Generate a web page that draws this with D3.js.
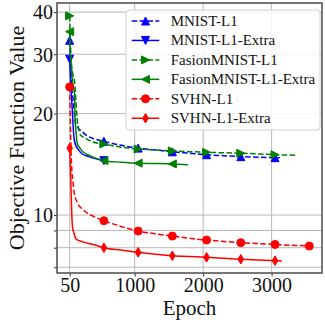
<!DOCTYPE html>
<html lang="en">
<head>
  <meta charset="UTF-8">
  <script src="https://cdn.jsdelivr.net/npm/d3@7"></script>
  <title>Objective Function Value</title>
  <style>
    body { margin: 0; background: #fff; }
    text { font-family: "Liberation Serif", "Times New Roman", serif; fill: #111; }
  </style>
</head>
<body>
<svg width="325" height="322"></svg>
<script>
  // 1. data
  var seriesNames = ["MNIST-L1", "MNIST-L1-Extra", "FasionMNIST-L1", "FasionMNIST-L1-Extra", "SVHN-L1", "SVHN-L1-Extra"];

  var mnistL1Epochs = [50, 65, 80, 100, 115, 130, 160, 230, 300, 420, 550, 800, 1050, 1300, 1550, 1800, 2050, 2300, 2550, 2800, 3050, 3120];
  var mnistL1Values = [33, 28, 24, 22, 20.5, 19, 18.3, 17.7, 17.2, 16.8, 16.55, 16.1, 15.8, 15.6, 15.4, 15.25, 15.1, 15.0, 14.9, 14.85, 14.8, 14.78];

  var mnistExtraEpochs = [50, 60, 70, 84, 100, 110, 130, 180, 230, 330, 450, 550, 600];
  var mnistExtraValues = [29, 26, 23.5, 21.2, 18.5, 17.2, 16.3, 15.6, 15.2, 14.9, 14.65, 14.5, 14.45];

  var fashionL1Epochs = [50, 60, 75, 100, 125, 140, 157, 175, 205, 280, 376, 550, 800, 1050, 1300, 1550, 1800, 2050, 2300, 2550, 2800, 3050, 3370];
  var fashionL1Values = [39, 33, 28, 26, 24.5, 22, 19.5, 18.3, 17.3, 16.9, 16.5, 16.25, 15.9, 15.7, 15.6, 15.5, 15.42, 15.35, 15.3, 15.25, 15.18, 15.1, 15.05];

  var fashionExtraEpochs = [50, 60, 75, 90, 108, 123, 128, 145, 160, 200, 230, 330, 450, 550, 800, 1050, 1300, 1550, 1780];
  var fashionExtraValues = [35, 30, 28, 25, 23.8, 22.5, 19.5, 17.5, 16.3, 15.8, 15.5, 15.05, 14.7, 14.5, 14.35, 14.25, 14.22, 14.18, 14.1];

  var svhnL1Epochs = [50, 58, 65, 75, 85, 100, 110, 160, 250, 400, 550, 800, 1050, 1300, 1550, 1800, 2050, 2300, 2550, 2800, 3050, 3300, 3550, 3570];
  var svhnL1Values = [24, 20, 17, 14.5, 13.3, 12.5, 11.85, 10.9, 10.35, 9.9, 9.62, 9.25, 8.96, 8.8, 8.66, 8.53, 8.43, 8.35, 8.28, 8.23, 8.18, 8.13, 8.09, 8.08];

  var svhnExtraEpochs = [50, 65, 75, 85, 95, 110, 125, 140, 230, 424, 550, 800, 1050, 1300, 1550, 1800, 2050, 2300, 2550, 2800, 3050, 3150];
  var svhnExtraValues = [15.8, 13, 11, 9.6, 9.1, 8.9, 8.65, 8.5, 8.34, 8.15, 8.0, 7.87, 7.75, 7.65, 7.57, 7.53, 7.49, 7.44, 7.39, 7.35, 7.32, 7.3];

  var xTicks = [50, 1000, 2000, 3000];
  var yTicks = [10, 20, 30, 40];
  var yMinorTicks = [7, 8, 9];

  // 2. styles
  var colors = ["#0000ff", "#0000ff", "#008000", "#008000", "#ff0000", "#ff0000"];
  var dashed = [true, false, true, false, true, false];
  var markers = ["up", "down", "right", "left", "circle", "thin"];

  var seriesEpochs = [mnistL1Epochs, mnistExtraEpochs, fashionL1Epochs, fashionExtraEpochs, svhnL1Epochs, svhnExtraEpochs];
  var seriesValues = [mnistL1Values, mnistExtraValues, fashionL1Values, fashionExtraValues, svhnL1Values, svhnExtraValues];
  var series = seriesNames.map(function(name, i) {
    return {
      name: name,
      points: seriesEpochs[i].map(function(e, j) { return {x: e, y: seriesValues[i][j]} })
    }
  });

  var svg = d3.select("svg");
  var plot = {left: 57, right: 322, top: 3, bottom: 273};

  // 3. scales
  var x = d3.scaleLinear().domain([-135, 3736]).range([plot.left, plot.right]);
  var y = d3.scaleLog().domain([6.73, 42.57]).range([plot.bottom, plot.top]);

  // 4. grid
  var grid = svg.append("g").attr("stroke", "#b8b8b8").attr("stroke-width", 1);
  xTicks.forEach(function(t) {
    grid.append("line").attr("x1", x(t)).attr("x2", x(t)).attr("y1", plot.top).attr("y2", plot.bottom);
  });
  yMinorTicks.concat(yTicks).forEach(function(t) {
    grid.append("line").attr("x1", plot.left).attr("x2", plot.right).attr("y1", y(t)).attr("y2", y(t));
  });

  // 5. axes
  var xAxis = svg.append("g")
    .attr("transform", "translate(0," + plot.bottom + ")")
    .call(d3.axisBottom(x).tickValues(xTicks).tickSize(3.5).tickFormat(d3.format("d")));
  xAxis.select(".domain").remove();
  xAxis.selectAll("line").attr("stroke", "#333");
  xAxis.selectAll("text").attr("dy", null).attr("y", 18.5)
    .style("font-size", "20px").style("font-family", "Liberation Serif").attr("fill", "#111");

  var yAxis = svg.append("g")
    .attr("transform", "translate(" + plot.left + ",0)")
    .call(d3.axisLeft(y).tickValues(yMinorTicks.concat(yTicks)).tickSize(3)
      .tickFormat(function(d) { return yTicks.indexOf(d) >= 0 ? d : "" }));
  yAxis.select(".domain").remove();
  yAxis.selectAll("line").attr("stroke", "#333");
  yAxis.selectAll("text").attr("x", -4).attr("dy", "0.34em")
    .style("font-size", "20px").style("font-family", "Liberation Serif").attr("fill", "#111");

  // 6. lines + markers
  var clip = svg.append("clipPath").attr("id", "plotclip").append("rect")
    .attr("x", plot.left).attr("y", plot.top)
    .attr("width", plot.right - plot.left).attr("height", plot.bottom - plot.top);

  var line = d3.line()
    .x(function(d) { return x(d.x) })
    .y(function(d) { return y(d.y) })
    .curve(d3.curveMonotoneX);

  function markerPath(type) {
    var m = 8, h = m / 2;
    if (type == "up") return "M0," + (-h) + "L" + h + "," + h + "L" + (-h) + "," + h + "Z";
    if (type == "down") return "M0," + h + "L" + h + "," + (-h) + "L" + (-h) + "," + (-h) + "Z";
    if (type == "right") return "M" + h + ",0L" + (-h) + "," + (-h) + "L" + (-h) + "," + h + "Z";
    if (type == "left") return "M" + (-h) + ",0L" + h + "," + (-h) + "L" + h + "," + h + "Z";
    if (type == "thin") return "M0,-4.8L2.8,0L0,4.8L-2.8,0Z";
    return d3.symbol().type(d3.symbolCircle).size(Math.PI * 16)();
  }

  var gs = svg.append("g").attr("clip-path", "url(#plotclip)")
    .selectAll(".series")
    .data(series)
    .enter()
    .append("g")
    .attr("class", "series");

  gs.append("path")
    .attr("d", function(d) { return line(d.points) })
    .attr("fill", "none")
    .attr("stroke", function(d, i) { return colors[i] })
    .attr("stroke-width", 1.5)
    .attr("stroke-dasharray", function(d, i) { return dashed[i] ? "5.5,2.4" : null });

  gs.each(function(d, i) {
    d3.select(this).selectAll(".mk")
      .data(d.points.filter(function(p) { return (p.x - 50) % 500 === 0 }))
      .enter()
      .append("path")
      .attr("transform", function(p) { return "translate(" + x(p.x) + "," + y(p.y) + ")" })
      .attr("d", markerPath(markers[i]))
      .attr("fill", colors[i])
      .attr("stroke", colors[i])
      .attr("stroke-width", 1);
  });

  // 7. frame
  svg.append("rect")
    .attr("x", plot.left).attr("y", plot.top)
    .attr("width", plot.right - plot.left).attr("height", plot.bottom - plot.top)
    .attr("fill", "none").attr("stroke", "#555").attr("stroke-width", 1.6);

  // 8. legend
  var legend = svg.append("g");
  legend.append("rect")
    .attr("x", 126).attr("y", 10).attr("width", 194).attr("height", 120).attr("rx", 3)
    .attr("fill", "#fff").attr("fill-opacity", 0.85)
    .attr("stroke", "#d0d0d0").attr("stroke-width", 1);

  var items = legend.selectAll(".item")
    .data(seriesNames)
    .enter()
    .append("g")
    .attr("transform", function(d, i) { return "translate(0," + (21 + i * 19.45) + ")" });

  items.append("line")
    .attr("x1", 131.7).attr("x2", 159.3)
    .attr("stroke", function(d, i) { return colors[i] })
    .attr("stroke-width", 1.5)
    .attr("stroke-dasharray", function(d, i) { return dashed[i] ? "5.5,2.4" : null });
  items.append("path")
    .attr("transform", "translate(145.5,0)")
    .attr("d", function(d, i) { return markerPath(markers[i]) })
    .attr("fill", function(d, i) { return colors[i] })
    .attr("stroke", function(d, i) { return colors[i] });
  items.append("text")
    .attr("x", 170.7).attr("y", 5)
    .style("font-size", "15px")
    .text(function(d) { return d });

  // 9. axis titles
  svg.append("text")
    .attr("x", (plot.left + plot.right) / 2).attr("y", 315)
    .attr("text-anchor", "middle")
    .style("font-size", "21px")
    .text("Epoch");
  svg.append("text")
    .attr("transform", "translate(24," + ((plot.top + plot.bottom) / 2) + ") rotate(-90)")
    .attr("text-anchor", "middle")
    .style("font-size", "22px")
    .text("Objective Function Value");
</script>
</body>
</html>
